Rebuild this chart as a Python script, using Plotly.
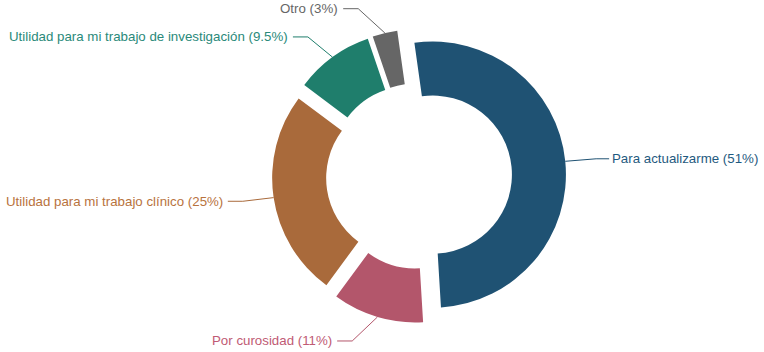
import math
import plotly.graph_objects as go

# ---- data ----
categories = ["Para actualizarme", "Por curosidad", "Utilidad para mi trabajo clínico",
              "Utilidad para mi trabajo de investigación", "Otro"]
values = [51, 11, 25, 9.5, 3]
pct_labels = ["51%", "11%", "25%", "9.5%", "3%"]

# ---- style ----
colors = ["#1f5273", "#b3566b", "#a96a3b", "#1f7e6c", "#666666"]
text_colors = ["#1f5a80", "#c05a74", "#b8733e", "#2a8a7a", "#666666"]

W, H = 764, 352
HOLE = 0.594
PULL = 0.105
ROTATION = -8
DOM_X = [272 / W, 566 / W]
DOM_Y = [29 / H, 323 / H]

fig = go.Figure(go.Pie(
    labels=categories,
    values=values,
    hole=HOLE,
    pull=PULL,
    sort=False,
    direction="clockwise",
    rotation=ROTATION,
    marker=dict(colors=colors, line=dict(width=0)),
    textinfo="none",
    hovertemplate="%{label}: %{value}%<extra></extra>",
    domain=dict(x=DOM_X, y=DOM_Y),
    showlegend=False,
))

# geometry replicated from plotly's pie layout (pixels, margins 0)
box_w = W * (DOM_X[1] - DOM_X[0])
box_h = H * (DOM_Y[1] - DOM_Y[0])
r = min(box_w, box_h) / (2 + 2 * PULL)
cx = W * (DOM_X[0] + DOM_X[1]) / 2
cy = H * (2 - DOM_Y[0] - DOM_Y[1]) / 2

total = sum(values)
start = ROTATION
shapes, annotations = [], []
D_LABEL = 172
R_ELBOW = 178
for cat, v, pl, col, tcol in zip(categories, values, pct_labels, colors, text_colors):
    span = v / total * 360
    mid = math.radians(start + span / 2)
    start += span
    dx, dy = math.sin(mid), -math.cos(mid)
    # point on outer edge of pulled slice
    p0 = (cx + dx * r * (1 + PULL), cy + dy * r * (1 + PULL))
    ly = cy + dy * D_LABEL
    side = 1 if dx >= 0 else -1
    ex = cx + side * math.sqrt(max(R_ELBOW ** 2 - (ly - cy) ** 2, 0))
    lx = ex + side * (13 if side > 0 else 15)
    tx = lx + side * (1 if side > 0 else 3)
    path = "M {:.4f},{:.4f} L {:.4f},{:.4f} L {:.4f},{:.4f}".format(
        p0[0] / W, 1 - p0[1] / H, ex / W, 1 - ly / H, lx / W, 1 - ly / H)
    shapes.append(dict(type="path", xref="paper", yref="paper", path=path,
                       line=dict(color=col, width=1)))
    annotations.append(dict(
        x=tx / W, y=1 - ly / H, xref="paper", yref="paper",
        text=f"{cat} ({pl})", showarrow=False,
        xanchor="left" if side > 0 else "right", yanchor="middle",
        font=dict(color=tcol, size=13.3, family="Liberation Sans, Arial, sans-serif"),
    ))

fig.update_layout(
    width=W, height=H,
    margin=dict(l=0, r=0, t=0, b=0),
    paper_bgcolor="white", plot_bgcolor="white",
    shapes=shapes, annotations=annotations,
)

fig.write_html("out.html")
